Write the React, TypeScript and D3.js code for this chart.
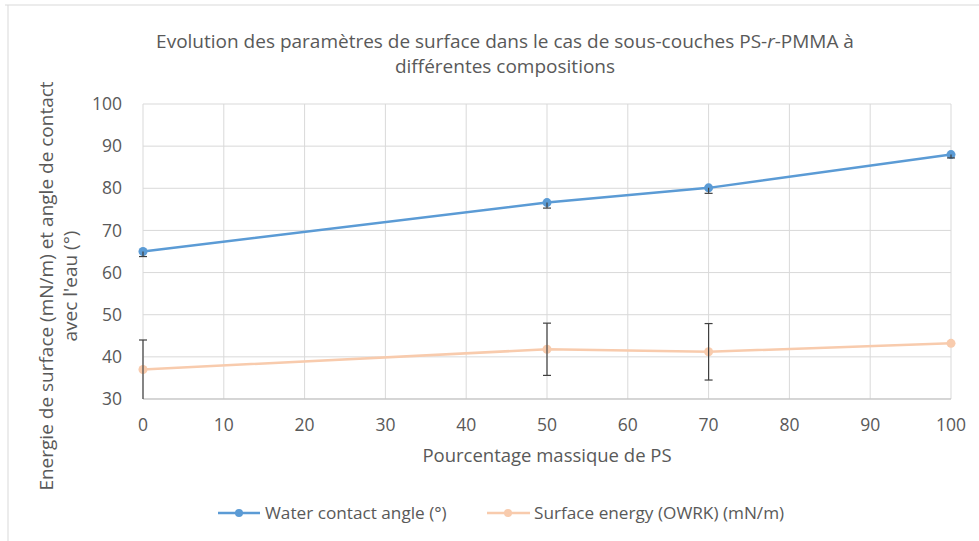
import React from "react";
import * as d3 from "d3";

const compositions = [0, 50, 70, 100];
const waterAngle = [65, 76.6, 80.1, 88];
const waterErr = [1.2, 1.3, 1.3, 0.8];
const surfaceEnergy = [37, 41.8, 41.2, 43.2];
const surfaceErr = [7, 6.2, 6.7, 0];
const xTicks = [0, 10, 20, 30, 40, 50, 60, 70, 80, 90, 100];
const yTicks = [30, 40, 50, 60, 70, 80, 90, 100];
const titleLines = [
  "Evolution des paramètres de surface dans le cas de sous-couches PS-",
  "différentes compositions",
];
const yTitleLines = ["Energie de surface (mN/m) et angle de contact", "avec l'eau (°)"];
const xTitle = "Pourcentage massique de PS";
const seriesNames = ["Water contact angle (°)", "Surface energy (OWRK) (mN/m)"];

const BLUE = "#5B9BD5";
const ORANGE = "#F8CBAD";
const TEXT = "#595959";
const GRID = "#D9D9D9";
const FONT = "'Open Sans', sans-serif";

export default function App() {
  const W = 979, H = 541;
  const x = d3.scaleLinear().domain([0, 100]).range([143, 951]);
  const y = d3.scaleLinear().domain([30, 100]).range([399, 104]);
  const line = d3.line<[number, number]>().x((d) => x(d[0])).y((d) => y(d[1]));
  const water = compositions.map((c, i) => [c, waterAngle[i]] as [number, number]);
  const surf = compositions.map((c, i) => [c, surfaceEnergy[i]] as [number, number]);
  const clampY = (v: number) => y(Math.max(30, Math.min(100, v)));

  return (
    <svg width={W} height={H} style={{ position: "absolute", left: 0, top: 0 }} fontFamily={FONT}>
      <rect x={0} y={0} width={W} height={H} fill="#fff" />
      <line x1={5} x2={W} y1={5} y2={5} stroke="#D9D9D9" />
      <line x1={8} x2={8} y1={5} y2={H} stroke="#D9D9D9" />
      {/* title */}
      <text x={505} y={48} textAnchor="middle" fontSize={19} fill={TEXT}>
        {titleLines[0]}
        <tspan fontStyle="italic">r</tspan>
        <tspan>-PMMA à</tspan>
      </text>
      <text x={505} y={73} textAnchor="middle" fontSize={19} fill={TEXT}>
        {titleLines[1]}
      </text>
      {/* grid */}
      {yTicks.map((t) => (
        <line key={"gy" + t} x1={x(0)} x2={x(100)} y1={y(t)} y2={y(t)} stroke={GRID} strokeWidth={1} />
      ))}
      {xTicks.map((t) => (
        <line key={"gx" + t} x1={x(t)} x2={x(t)} y1={y(30)} y2={y(100)} stroke={GRID} strokeWidth={1} />
      ))}
      <line x1={x(0)} x2={x(100)} y1={y(30)} y2={y(30)} stroke="#BFBFBF" />
      {/* tick labels */}
      {yTicks.map((t) => (
        <text key={"ty" + t} x={122} y={y(t)} dy="0.35em" textAnchor="end" fontSize={17.5} fill={TEXT}>
          {t}
        </text>
      ))}
      {xTicks.map((t) => (
        <text key={"tx" + t} x={x(t)} y={425} dy="0.35em" textAnchor="middle" fontSize={17.5} fill={TEXT}>
          {t}
        </text>
      ))}
      <text x={547} y={456} dy="0.35em" textAnchor="middle" fontSize={18.5} fill={TEXT}>
        {xTitle}
      </text>
      <g transform="translate(46,286) rotate(-90)">
        <text x={0} y={0} dy="0.35em" textAnchor="middle" fontSize={19} fill={TEXT}>
          {yTitleLines[0]}
        </text>
        <text x={0} y={24} dy="0.35em" textAnchor="middle" fontSize={19} fill={TEXT}>
          {yTitleLines[1]}
        </text>
      </g>
      {/* lines */}
      <path d={line(surf) ?? ""} fill="none" stroke={ORANGE} strokeWidth={2.5} />
      <path d={line(water) ?? ""} fill="none" stroke={BLUE} strokeWidth={2.5} />
      {/* markers */}
      {surf.map((d, i) => (
        <circle key={"ms" + i} cx={x(d[0])} cy={y(d[1])} r={4.5} fill={ORANGE} />
      ))}
      {water.map((d, i) => (
        <circle key={"mw" + i} cx={x(d[0])} cy={y(d[1])} r={4.5} fill={BLUE} />
      ))}
      {/* error bars */}
      {surf.map((d, i) => {
        const e = surfaceErr[i];
        if (!e) return null;
        const cx = x(d[0]);
        const top = clampY(d[1] + e);
        const bot = clampY(d[1] - e);
        return (
          <g key={"es" + i} stroke="#404040" strokeWidth={1.2}>
            <line x1={cx} x2={cx} y1={top} y2={bot} />
            <line x1={cx - 4} x2={cx + 4} y1={top} y2={top} />
            {d[1] - e > 30 && <line x1={cx - 4} x2={cx + 4} y1={bot} y2={bot} />}
          </g>
        );
      })}
      {water.map((d, i) => {
        const e = waterErr[i];
        const cx = x(d[0]);
        const bot = clampY(d[1] - e);
        return (
          <g key={"ew" + i} stroke="#404040" strokeWidth={1.2}>
            <line x1={cx} x2={cx} y1={y(d[1])} y2={bot} />
            <line x1={cx - 4} x2={cx + 4} y1={bot} y2={bot} />
          </g>
        );
      })}
      {/* legend */}
      <g>
        <line x1={218} x2={260} y1={513} y2={513} stroke={BLUE} strokeWidth={2.5} />
        <circle cx={239} cy={513} r={4} fill={BLUE} />
        <text x={265} y={513} dy="0.35em" fontSize={17.2} fill={TEXT}>
          {seriesNames[0]}
        </text>
        <line x1={487} x2={530} y1={513} y2={513} stroke={ORANGE} strokeWidth={2.5} />
        <circle cx={508} cy={513} r={4} fill={ORANGE} />
        <text x={534} y={513} dy="0.35em" fontSize={17.2} fill={TEXT}>
          {seriesNames[1]}
        </text>
      </g>
    </svg>
  );
}
